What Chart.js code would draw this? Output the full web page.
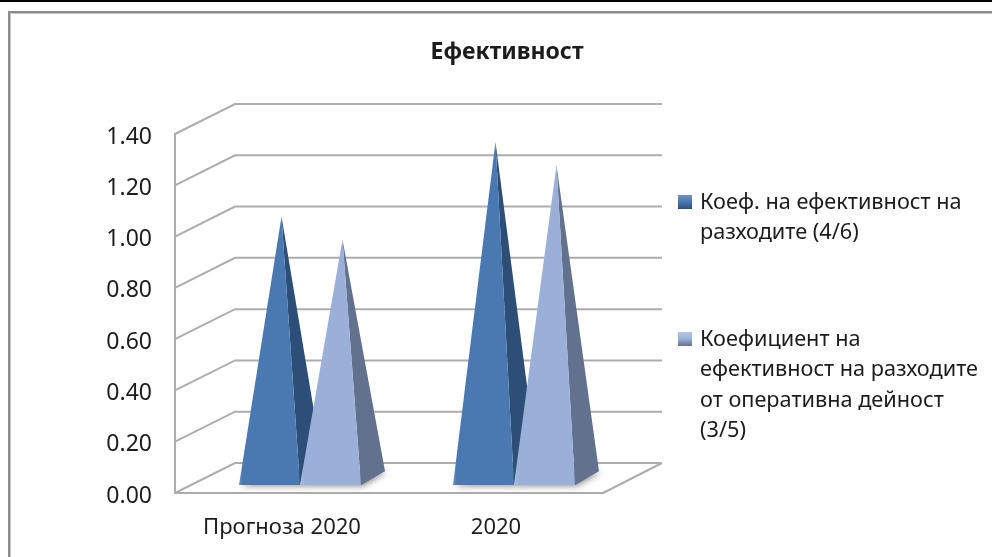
<!DOCTYPE html>
<html>
<head>
<meta charset="utf-8">
<title>Ефективност</title>
<script src="https://cdn.jsdelivr.net/npm/chart.js@4/dist/chart.umd.js"></script>
<style>
  html, body { margin: 0; background: #fff; }
  canvas { display: block; }
</style>
</head>
<body>
<canvas id="chart" width="992" height="557"></canvas>
<script>
const categories = ['Прогноза 2020', '2020'];
const costRatio = [1.02, 1.31];
const operatingRatio = [0.93, 1.22];
const costLegend = ['Коеф. на ефективност на', 'разходите (4/6)'];
const operatingLegend = ['Коефициент на', 'ефективност на разходите', 'от оперативна дейност', '(3/5)'];

const chartFont = '"Noto Sans", sans-serif';
const gridColor = '#adadad';
const textColor = '#1c1c1c';

// depth of the fake 3D box and of the pyramids standing on its floor
const wallDx = 60, wallDy = 30;
const baseDx = 18, baseDy = 8;
const sideDx = 24, sideDy = 14;

const shades = [
  { front: '#4a78b0', side: '#2d4f77', light: '#6d93c2' },
  { front: '#9ab0d9', side: '#62728e', light: '#b4c6e6' }
];

function drawFrame(ctx, chart) {
  ctx.fillStyle = '#000';
  ctx.fillRect(0, 0, chart.width, 2);
  ctx.fillStyle = '#c8c8c8';
  ctx.fillRect(8, 13, chart.width - 8, 1);
  ctx.fillRect(10, 11, 1, chart.height - 11);
  ctx.fillStyle = '#8c8c8c';
  ctx.fillRect(8, 11, chart.width - 8, 2);
  ctx.fillRect(8, 11, 2, chart.height - 11);
}

function drawWalls(ctx, chart) {
  const { chartArea: { left, right }, scales: { y } } = chart;
  ctx.strokeStyle = gridColor;
  ctx.lineWidth = 2;
  y.ticks.forEach(t => {
    const py = y.getPixelForValue(t.value);
    ctx.beginPath();
    ctx.moveTo(left, py);
    ctx.lineTo(left + wallDx, py - wallDy);
    ctx.lineTo(right + wallDx - 1, py - wallDy);
    ctx.stroke();
  });
  // right edge of the floor
  const floor = y.getPixelForValue(0);
  ctx.beginPath();
  ctx.moveTo(right, floor);
  ctx.lineTo(right + wallDx - 1, floor - wallDy);
  ctx.stroke();
}

// tick labels sit a little under their wall line, so they are placed here
function drawValueLabels(ctx, chart) {
  const { chartArea: { left }, scales: { y } } = chart;
  ctx.fillStyle = textColor;
  ctx.font = '23px ' + chartFont;
  ctx.textAlign = 'right';
  ctx.textBaseline = 'middle';
  y.ticks.forEach(t => {
    ctx.fillText(t.value.toFixed(2), left - 23, y.getPixelForValue(t.value) + 3);
  });
}

function drawPyramid(ctx, bar, shade, floor) {
  const half = bar.width / 2;
  const x0 = bar.x - half + baseDx;
  const x1 = bar.x + half + baseDx;
  const by = floor - baseDy;
  const apexX = bar.x + baseDx + sideDx / 2;
  const apexY = bar.y - baseDy - sideDy / 2;

  // soft shadow on the floor, behind the base
  ctx.save();
  ctx.shadowColor = 'rgba(0,0,0,0.45)';
  ctx.shadowBlur = 6;
  ctx.shadowOffsetX = 2;
  ctx.shadowOffsetY = 1;
  ctx.fillStyle = shade.side;
  ctx.beginPath();
  ctx.moveTo(x0, by);
  ctx.lineTo(x1, by);
  ctx.lineTo(x1 + sideDx, by - sideDy);
  ctx.lineTo(x0 + sideDx, by - sideDy);
  ctx.closePath();
  ctx.fill();
  ctx.restore();

  ctx.fillStyle = shade.side;
  ctx.beginPath();
  ctx.moveTo(apexX, apexY);
  ctx.lineTo(x1, by);
  ctx.lineTo(x1 + sideDx, by - sideDy);
  ctx.closePath();
  ctx.fill();

  const grad = ctx.createLinearGradient(x0, 0, x1, 0);
  grad.addColorStop(0, shade.light);
  grad.addColorStop(0.06, shade.front);
  grad.addColorStop(1, shade.front);
  ctx.fillStyle = grad;
  ctx.beginPath();
  ctx.moveTo(apexX, apexY);
  ctx.lineTo(x0, by);
  ctx.lineTo(x1, by);
  ctx.closePath();
  ctx.fill();
}

function drawLegendEntry(ctx, lines, shade, top) {
  const grad = ctx.createLinearGradient(0, top, 0, top + 14);
  grad.addColorStop(0, shade.light);
  grad.addColorStop(0.5, shade.front);
  grad.addColorStop(1, shade.side);
  ctx.fillStyle = grad;
  ctx.fillRect(678, top, 14, 14);

  ctx.fillStyle = textColor;
  ctx.font = '21.7px ' + chartFont;
  ctx.textAlign = 'left';
  ctx.textBaseline = 'middle';
  lines.forEach((line, i) => ctx.fillText(line, 700, top + 8 + i * 30.3));
}

const pyramids = {
  id: 'pyramids',
  beforeDraw(chart) {
    const { ctx } = chart;
    ctx.save();
    drawFrame(ctx, chart);
    drawWalls(ctx, chart);
    drawValueLabels(ctx, chart);

    ctx.fillStyle = textColor;
    ctx.font = 'bold 23px ' + chartFont;
    ctx.textAlign = 'center';
    ctx.textBaseline = 'middle';
    ctx.fillText('Ефективност', 507, 52);
    ctx.restore();
  },
  // replaces the flat bars with pyramids built on the same bar elements
  beforeDatasetsDraw(chart) {
    const { ctx, scales: { y } } = chart;
    const floor = y.getPixelForValue(0);
    ctx.save();
    categories.forEach((c, i) => {
      chart.data.datasets.forEach((ds, d) => {
        drawPyramid(ctx, chart.getDatasetMeta(d).data[i], shades[d], floor);
      });
    });
    ctx.restore();
    return false;
  },
  afterDraw(chart) {
    const { ctx } = chart;
    ctx.save();
    drawLegendEntry(ctx, costLegend, shades[0], 195);
    drawLegendEntry(ctx, operatingLegend, shades[1], 332);
    ctx.restore();
  }
};

new Chart(document.getElementById('chart'), {
  type: 'bar',
  data: {
    labels: categories,
    datasets: [
      { label: costLegend.join(' '), data: costRatio, backgroundColor: shades[0].front },
      { label: operatingLegend.join(' '), data: operatingRatio, backgroundColor: shades[1].front }
    ]
  },
  options: {
    responsive: false,
    animation: false,
    layout: { padding: { top: 134, right: 389 } },
    datasets: { bar: { barPercentage: 1, categoryPercentage: 0.57 } },
    plugins: { legend: { display: false }, title: { display: false }, tooltip: { enabled: false } },
    scales: {
      x: {
        grid: { display: false },
        border: { color: gridColor, width: 2 },
        ticks: { color: textColor, font: { family: chartFont, size: 22 }, padding: 14 },
        afterFit(scale) { scale.height = 64; }
      },
      y: {
        min: 0,
        max: 1.4,
        grid: { display: false },
        border: { color: gridColor, width: 2 },
        ticks: { stepSize: 0.2, display: false },
        afterFit(scale) { scale.width = 175; }
      }
    }
  },
  plugins: [pyramids]
});
</script>
</body>
</html>
